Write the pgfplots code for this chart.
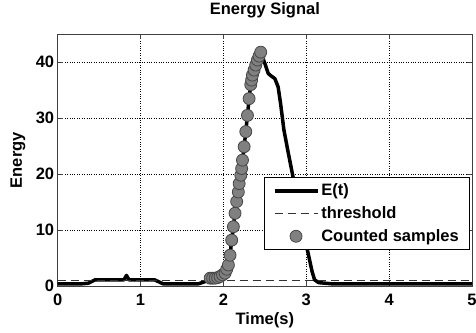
\documentclass[border=0pt]{standalone}
\usepackage{fontspec}
\setmainfont{Liberation Sans}
\usepackage{pgfplots}
\pgfplotsset{compat=1.18}
\definecolor{mkfill}{RGB}{128,128,128}
\definecolor{mkedge}{RGB}{70,70,70}
\newcommand{\bigbf}{\fontsize{16.5}{19.8}\selectfont\bfseries}
\begin{document}
\begin{tikzpicture}
\begin{axis}[
  scale only axis,
  width=414.3pt, height=251.7pt,
  xmin=0, xmax=5, ymin=0, ymax=45,
  xtick={0,1,2,3,4,5}, ytick={0,10,20,30,40},
  /pgf/number format/assume math mode=true,
  tick label style={font=\bigbf},
  xticklabel style={anchor=base, yshift=-20pt},
  tick align=inside, major tick length=5pt,
  axis line style={black!75, line width=0.8pt},
  every tick/.style={black!75, line width=0.8pt},
  grid=major,
  major grid style={dotted, black, line width=0.7pt},
  title={Energy Signal},
  title style={font=\bigbf, at={(axis description cs:0.5,1)}, anchor=base, yshift=13.6pt},
  xlabel={Time(s)},
  xlabel style={font=\bigbf, at={(axis description cs:0.5,0)}, anchor=base, yshift=-39pt},
  ylabel={Energy},
  ylabel style={font=\bigbf, at={(axis description cs:-0.0862,0.5)}, anchor=base},
  legend style={font=\bigbf, at={(rel axis cs:0.993,0.143)}, anchor=south east,
     draw=black, line width=0.6pt, fill=white, row sep=5.3pt, inner xsep=8pt, inner ysep=4.7pt},
  legend cell align=left,
  legend image code/.code={\draw[mark repeat=2,mark phase=2,#1] plot coordinates {(0pt,0pt) (21.5pt,0pt) (43pt,0pt)};},
]
\addplot[black, line width=3.5pt, line join=round] coordinates {
(0,0.4) (0.30,0.4) (0.37,0.5) (0.45,1.1) (0.80,1.1) (0.83,1.9) (0.86,1.1)
(1.17,1.1) (1.27,0.4) (1.70,0.4) (1.78,0.8) (1.84,1.4)
(1.87,1.4) (1.90,1.4) (1.93,1.5) (1.96,1.7) (1.99,2.0) (2.02,2.3) (2.04,3.0)
(2.06,3.75) (2.08,5.5) (2.10,8.2) (2.12,10.6) (2.14,13.0) (2.16,15.1) (2.18,16.8)
(2.19,18.3) (2.21,19.8) (2.22,21.0) (2.23,22.5) (2.25,24.9) (2.27,27.6) (2.29,30.5)
(2.31,33.5) (2.33,36.0) (2.34,36.8) (2.35,37.7) (2.37,38.6) (2.39,39.5) (2.41,40.4)
(2.43,41.1) (2.45,41.8)
(2.47,41.0) (2.50,39.8) (2.54,38.0) (2.58,37.5) (2.62,37.1) (2.66,35.6) (2.69,32.6)
(2.73,27.9) (2.78,24.0) (2.84,19.5) (2.90,14.5) (2.96,9.8) (3.02,6.0) (3.07,2.6)
(3.10,1.1) (3.15,0.6) (3.30,0.4) (5,0.4)
};
\addlegendentry{E(t)}
\addplot[black!80, line width=0.8pt, dash pattern=on 8pt off 5pt] coordinates {(0,1) (5,1)};
\addlegendentry{threshold}
\addplot[only marks, mark=*, mark size=6pt, mark options={fill=mkfill, draw=mkedge, line width=0.8pt}] coordinates {
(1.84,1.4) (1.87,1.4) (1.90,1.4) (1.93,1.5) (1.96,1.7) (1.99,2.0) (2.02,2.3) (2.04,3.0)
(2.06,3.75) (2.08,5.5) (2.10,8.2) (2.12,10.6) (2.14,13.0) (2.16,15.1) (2.18,16.8)
(2.19,18.3) (2.21,19.8) (2.22,21.0) (2.23,22.5) (2.25,24.9) (2.27,27.6) (2.29,30.5)
(2.31,33.5) (2.33,36.0) (2.34,36.8) (2.35,37.7) (2.37,38.6) (2.39,39.5) (2.41,40.4)
(2.43,41.1) (2.45,41.8)
};
\addlegendentry{Counted samples}
\end{axis}
\pgfresetboundingbox
\path ([xshift=-57.7pt,yshift=-47pt]current axis.south west) rectangle ([xshift=4pt,yshift=34.3pt]current axis.north east);
\end{tikzpicture}
\end{document}
